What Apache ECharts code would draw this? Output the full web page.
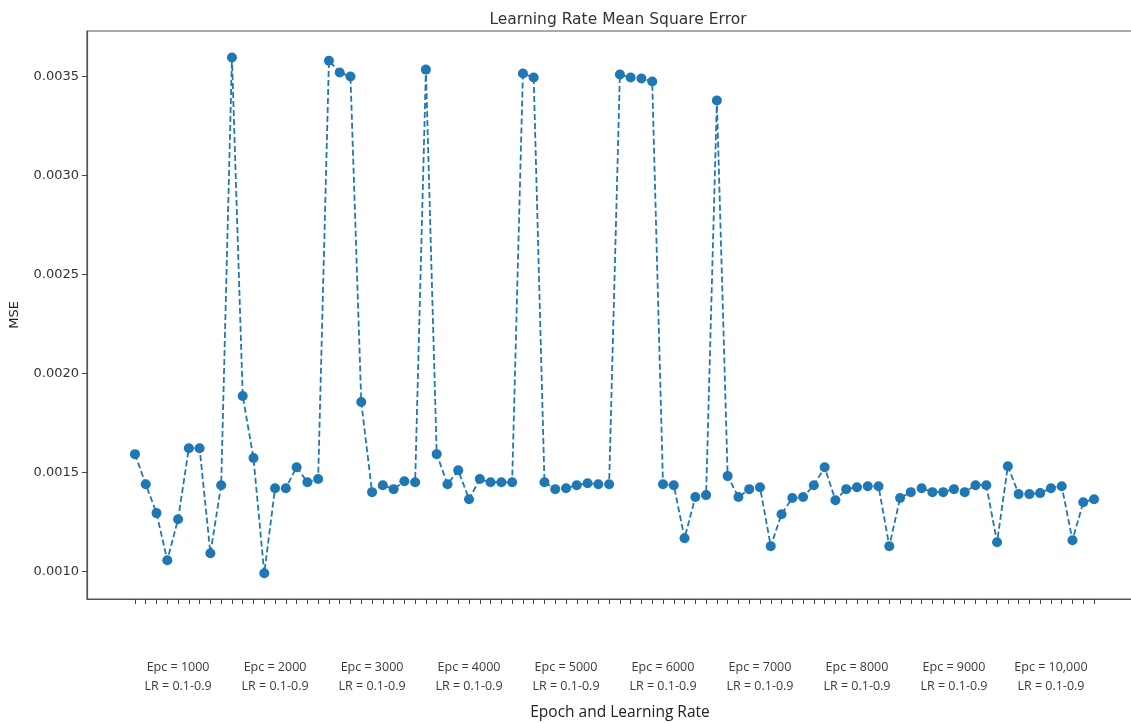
<!DOCTYPE html>
<html>
<head>
<meta charset="utf-8">
<script src="https://cdn.jsdelivr.net/npm/echarts@6/dist/echarts.min.js"></script>
<style>
html,body{margin:0;padding:0;background:#fff;overflow:hidden;}
#chart{width:1160px;height:723px;}
</style>
</head>
<body>
<div id="chart"></div>
<script>
// MSE for each epoch group (LR 0.1 .. 0.9)
const epc1000  = [0.001592,0.00144,0.001294,0.001056,0.001263,0.001622,0.001622,0.001091,0.001435];
const epc2000  = [0.003596,0.001886,0.001572,0.00099,0.00142,0.00142,0.001526,0.00145,0.001466];
const epc3000  = [0.00358,0.00352,0.0035,0.001855,0.0014,0.001435,0.001415,0.001455,0.00145];
const epc4000  = [0.003535,0.001592,0.00144,0.00151,0.001364,0.001466,0.00145,0.00145,0.00145];
const epc5000  = [0.003515,0.003495,0.00145,0.001415,0.00142,0.001435,0.001445,0.00144,0.00144];
const epc6000  = [0.00351,0.003495,0.00349,0.003475,0.00144,0.001435,0.001167,0.001375,0.001385];
const epc7000  = [0.003379,0.001481,0.001375,0.001415,0.001425,0.001127,0.001288,0.00137,0.001375];
const epc8000  = [0.001435,0.001526,0.001359,0.001415,0.001425,0.00143,0.00143,0.001127,0.00137];
const epc9000  = [0.0014,0.00142,0.0014,0.0014,0.001415,0.0014,0.001435,0.001435,0.001147];
const epc10000 = [0.001531,0.00139,0.00139,0.001395,0.00142,0.00143,0.001157,0.001349,0.001364];

const groupLabels = [
  "Epc = 1000\nLR = 0.1-0.9","Epc = 2000\nLR = 0.1-0.9","Epc = 3000\nLR = 0.1-0.9",
  "Epc = 4000\nLR = 0.1-0.9","Epc = 5000\nLR = 0.1-0.9","Epc = 6000\nLR = 0.1-0.9",
  "Epc = 7000\nLR = 0.1-0.9","Epc = 8000\nLR = 0.1-0.9","Epc = 9000\nLR = 0.1-0.9",
  "Epc = 10,000\nLR = 0.1-0.9"
];
const yTicks = [0.0010,0.0015,0.0020,0.0025,0.0030,0.0035];

const groups = [epc1000,epc2000,epc3000,epc4000,epc5000,epc6000,epc7000,epc8000,epc9000,epc10000];
const mse = [].concat(...groups);
const points = mse.map((v,i)=>[i,v]);
const n = mse.length;
const perGroup = epc1000.length;
const xMin = -0.05*(n-1), xMax = (n-1)*1.05;
const groupCenters = groups.map((g,k)=>k*perGroup+(perGroup-1)/2);

const chart = echarts.init(document.getElementById('chart'));
chart.setOption({
  animation:false,
  backgroundColor:'#fff',
  title:{text:'Learning Rate Mean Square Error',left:613,top:7,textAlign:'center',
    textStyle:{fontFamily:'DejaVu Sans',fontSize:15.5,fontWeight:'normal',color:'#333'}},
  grid:{left:87,top:31,right:18,bottom:124,show:true,borderColor:'#555',borderWidth:1.2,containLabel:false},
  xAxis:[{
    type:'value',min:xMin,max:xMax,
    axisLine:{show:true,onZero:false,lineStyle:{color:'#555',width:1.2}},
    axisTick:{show:true,length:5,lineStyle:{color:'#444'},customValues:points.map(p=>p[0])},
    axisLabel:{show:false},
    splitLine:{show:false}
  },{
    type:'value',min:xMin,max:xMax,position:'bottom',offset:51,
    axisLine:{show:false},axisTick:{show:false},splitLine:{show:false},
    axisLabel:{show:true,customValues:groupCenters,
      formatter:(v)=>groupLabels[Math.round((v-(perGroup-1)/2)/perGroup)],
      fontFamily:'Open Sans',fontSize:12.5,lineHeight:19,color:'#3a3a3a',align:'center'}
  }],
  yAxis:{
    type:'value',min:0.00086,max:0.00373,
    name:'MSE',nameLocation:'middle',nameGap:66,nameRotate:90,
    nameTextStyle:{fontFamily:'DejaVu Sans',fontSize:13,color:'#222'},
    axisLine:{show:true,onZero:false,lineStyle:{color:'#555',width:1.2}},
    axisTick:{show:true,length:5,lineStyle:{color:'#444'},customValues:yTicks},
    axisLabel:{customValues:yTicks,formatter:(v)=>v.toFixed(4),
      fontFamily:'DejaVu Sans',fontSize:13,color:'#333',margin:8},
    splitLine:{show:false}
  },
  graphic:[{type:'text',x:620,y:705,
    style:{text:'Epoch and Learning Rate',font:'15.5px "Open Sans"',fill:'#222',align:'center',textAlign:'center'}}],
  series:[{
    type:'line',data:points,xAxisIndex:0,
    symbol:'circle',symbolSize:10,showAllSymbol:true,
    lineStyle:{color:'#1f77b4',width:1.8,type:[6,3]},
    itemStyle:{color:'#1f77b4'}
  }]
});
</script>
</body>
</html>
